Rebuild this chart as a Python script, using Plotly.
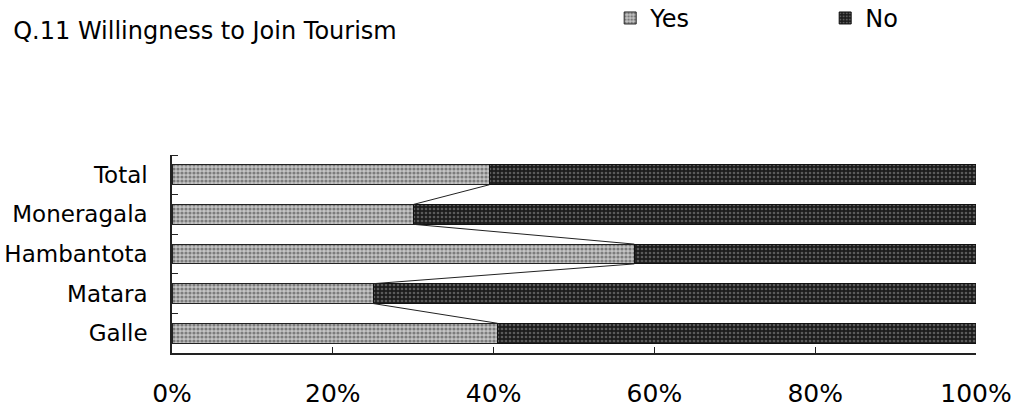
import plotly.graph_objects as go

categories = ["Total", "Moneragala", "Hambantota", "Matara", "Galle"]
yes_pct = [39.5, 30.0, 57.5, 25.0, 40.5]
no_pct = [100 - v for v in yes_pct]
x_ticks = [0, 20, 40, 60, 80, 100]
x_tick_labels = ["0%", "20%", "40%", "60%", "80%", "100%"]

FONT = "DejaVu Sans, Liberation Sans, Arial, sans-serif"
BAR_W = 0.5
positions = list(range(len(categories) - 1, -1, -1))

fig = go.Figure()
fig.add_trace(go.Bar(
    y=positions, x=yes_pct, orientation="h", name="Yes", width=BAR_W,
    marker=dict(color="#b5b5b5", line=dict(color="#222", width=1),
                pattern=dict(shape=".", fgcolor="#333", bgcolor="#c4c4c4", size=4, solidity=0.5)),
))
fig.add_trace(go.Bar(
    y=positions, x=no_pct, orientation="h", name="No", width=BAR_W,
    marker=dict(color="#2b2b2b", line=dict(color="#111", width=1),
                pattern=dict(shape=".", fgcolor="#9a9a9a", bgcolor="#1c1c1c", size=4, solidity=0.35)),
))

# series lines connecting Yes/No boundaries between consecutive bars
sx, sy = [], []
for i in range(len(categories) - 1):
    sx += [yes_pct[i], yes_pct[i + 1], None]
    sy += [positions[i] - BAR_W / 2, positions[i + 1] + BAR_W / 2, None]
fig.add_trace(go.Scatter(x=sx, y=sy, mode="lines", line=dict(color="#222", width=1),
                         showlegend=False, hoverinfo="skip"))

fig.update_layout(
    width=1015, height=408,
    barmode="stack",
    paper_bgcolor="white", plot_bgcolor="white",
    margin=dict(l=172, r=39, t=155, b=55, autoexpand=False),
    font=dict(family=FONT, size=22, color="#000"),
    title=dict(text="Q.11 Willingness to Join Tourism", x=0.013, xanchor="left",
               y=1 - 31 / 408, yanchor="middle", font=dict(size=24, color="#000")),
    legend=dict(orientation="h", x=0.545, xanchor="left", y=1.69, yanchor="middle",
                entrywidth=170, entrywidthmode="pixels", itemwidth=30,
                font=dict(size=24), traceorder="normal", bgcolor="rgba(0,0,0,0)"),
    showlegend=True,
)
fig.update_xaxes(range=[0, 100], tickvals=x_ticks, ticktext=x_tick_labels,
                 showline=True, linecolor="#222", linewidth=1.5, mirror=False,
                 ticks="inside", ticklen=6, tickcolor="#222", showgrid=False, zeroline=False,
                 ticklabelstandoff=17, tickfont=dict(size=25))
fig.update_yaxes(range=[-0.5, len(categories) - 0.5], tickvals=positions, ticktext=categories,
                 showline=True, linecolor="#222", linewidth=1.5, ticks="", showgrid=False,
                 zeroline=False, ticklabelstandoff=18, tickfont=dict(size=23),
                 minor=dict(tickvals=[p + 0.5 for p in range(-1, len(categories))],
                            ticks="inside", ticklen=6, tickcolor="#222", showgrid=False))

fig.write_html("out.html")
